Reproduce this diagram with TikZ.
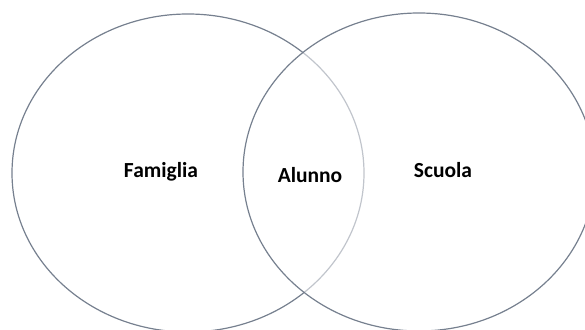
\documentclass[tikz,border=0pt]{standalone}
\usetikzlibrary{shapes.geometric}
\usepackage{fontspec}
\setmainfont{Carlito}
\begin{document}
\begin{tikzpicture}[x=1pt,y=1pt,
  ring/.style={draw=ringcol,line width=1.2pt,ellipse,minimum width=352pt,minimum height=318pt,inner sep=0pt},
  lbl/.style={font=\bfseries\fontsize{21.5}{24}\selectfont,text=black,inner sep=0pt}]
\definecolor{ringcol}{HTML}{76808F}
\useasboundingbox (0,0) rectangle (585,329);
% left set
\node[ring] (fam) at (188,156) {};
% right set, its half-transparent fill softens the left outline inside it
\node[ring,fill=white,fill opacity=0.55] (scu) at (419,157) {};
\node[lbl] (tfam) at (161,157) {Famiglia};
\node[lbl] (talu) at (310,154) {Alunno};
\node[lbl] (tscu) at (443,159) {Scuola};
\end{tikzpicture}
\end{document}
